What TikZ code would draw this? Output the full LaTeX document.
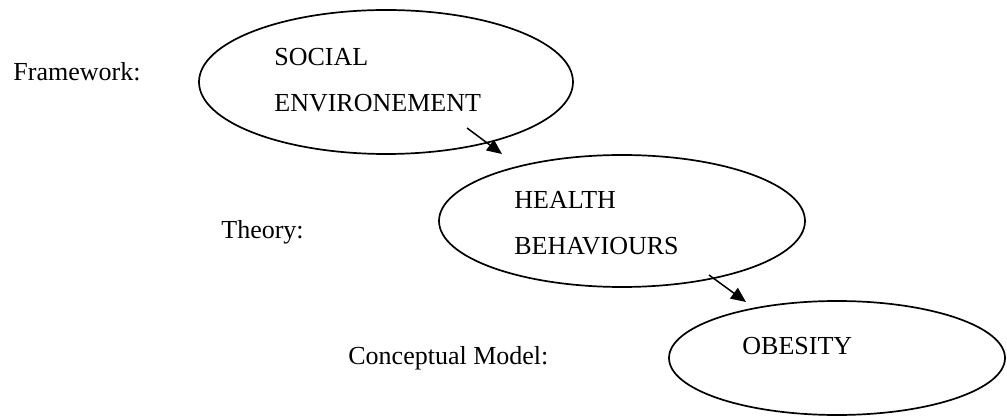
\documentclass[tikz,border=0pt]{standalone}
\usepackage{fontspec}
\setmainfont{Liberation Serif}
\usetikzlibrary{shapes.geometric}
\usetikzlibrary{arrows.meta}

\tikzset{
  oval/.style={draw,ellipse,line width=0.85pt,inner sep=0pt},
  lbl/.style={anchor=base west,inner sep=0pt,font=\fontsize{13}{15}\selectfont},
  flow/.style={line width=0.75pt,-{Triangle[length=7.5pt,width=6.5pt]}}
}

\begin{document}
\begin{tikzpicture}[x=0.5pt,y=-0.5pt]% coordinates in pixels, y downwards
\useasboundingbox (0,0) rectangle (1007,416);
% the three ovals
\node[oval,minimum width=187pt,minimum height=72pt] (social) at (386,82) {};
\node[oval,minimum width=183pt,minimum height=66pt] (health) at (622,221) {};
\node[oval,minimum width=168pt,minimum height=57pt] (obes) at (837,358) {};
% texts
\node[lbl] (fw) at (13,81) {Framework:};
\node[lbl] (soc1) at (274,66) {SOCIAL};
\node[lbl] (soc2) at (274,112) {ENVIRONEMENT};
\node[lbl] (th) at (221,239) {Theory:};
\node[lbl] (hb1) at (514,209) {HEALTH};
\node[lbl] (hb2) at (514,255) {BEHAVIOURS};
\node[lbl] (cm) at (348,365) {Conceptual Model:};
\node[lbl] (ob) at (742,355) {OBESITY};
% arrows
\coordinate (s1) at (467,128); \coordinate (e1) at (502,154);
\coordinate (s2) at (709,275); \coordinate (e2) at (746,302);
\draw[flow] (s1) -- (e1);
\draw[flow] (s2) -- (e2);
\end{tikzpicture}
\end{document}
